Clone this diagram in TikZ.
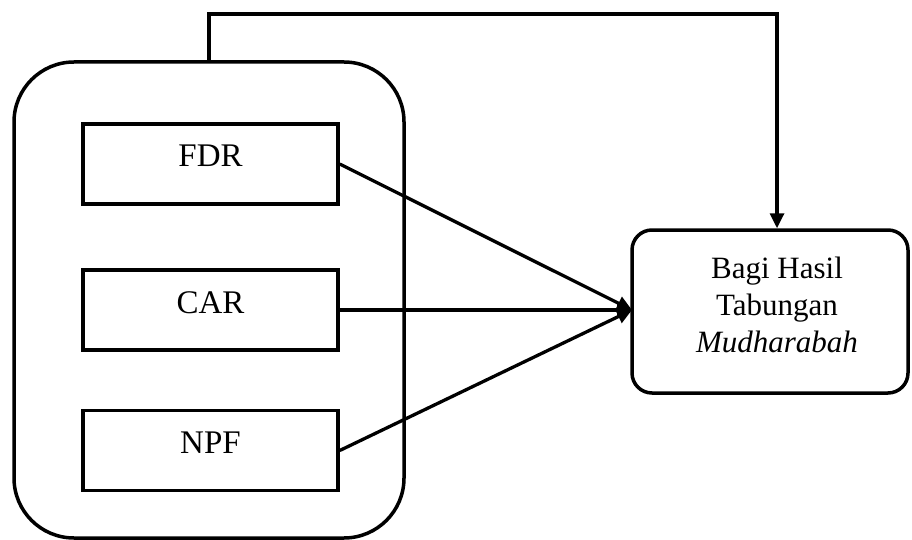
\documentclass[tikz,border=0pt]{standalone}
\usepackage{fontspec}
\setmainfont{Liberation Serif}
\usetikzlibrary{arrows.meta}
\begin{document}
\begin{tikzpicture}[x=1pt,y=-1pt,
  every node/.style={inner sep=0pt},
  varbox/.style={draw,line width=3.5pt,minimum width=255pt,minimum height=80pt,
    font=\fontsize{33}{40}\selectfont,text height=22pt,text depth=16pt},
  conn/.style={line width=3.3pt,-{Triangle[length=15pt,width=14pt]}},
  restext/.style={anchor=base,font=\fontsize{31}{37}\selectfont}]
\useasboundingbox (0,0) rectangle (912,540);
\node[draw,line width=3.5pt,rounded corners=60pt,minimum width=390pt,minimum height=476pt] (grp) at (209,300) {};
\node[varbox] (fdr) at (210.5,164) {FDR};
\node[varbox] (car) at (210.5,310) {CAR};
\node[varbox] (npf) at (210.5,450.5) {NPF};
\node[draw,line width=3.5pt,rounded corners=20pt,minimum width=276pt,minimum height=163pt] (res) at (770,311.5) {};
\node[restext] (t1) at (777,278) {Bagi Hasil};
\node[restext] (t2) at (777,315) {Tabungan};
\node[restext] (t3) at (777,352) {\itshape Mudharabah};
\coordinate (tip) at (632,310);
\coordinate (tA) at (209,14);
\coordinate (tB) at (777,14);
\draw[conn] (fdr.east) -- (tip);
\draw[conn] (car.east) -- (tip);
\draw[conn] (npf.east) -- (tip);
\draw[conn] (grp.north) -- (tA) -- (tB) -- (tB |- res.north);
\end{tikzpicture}
\end{document}
